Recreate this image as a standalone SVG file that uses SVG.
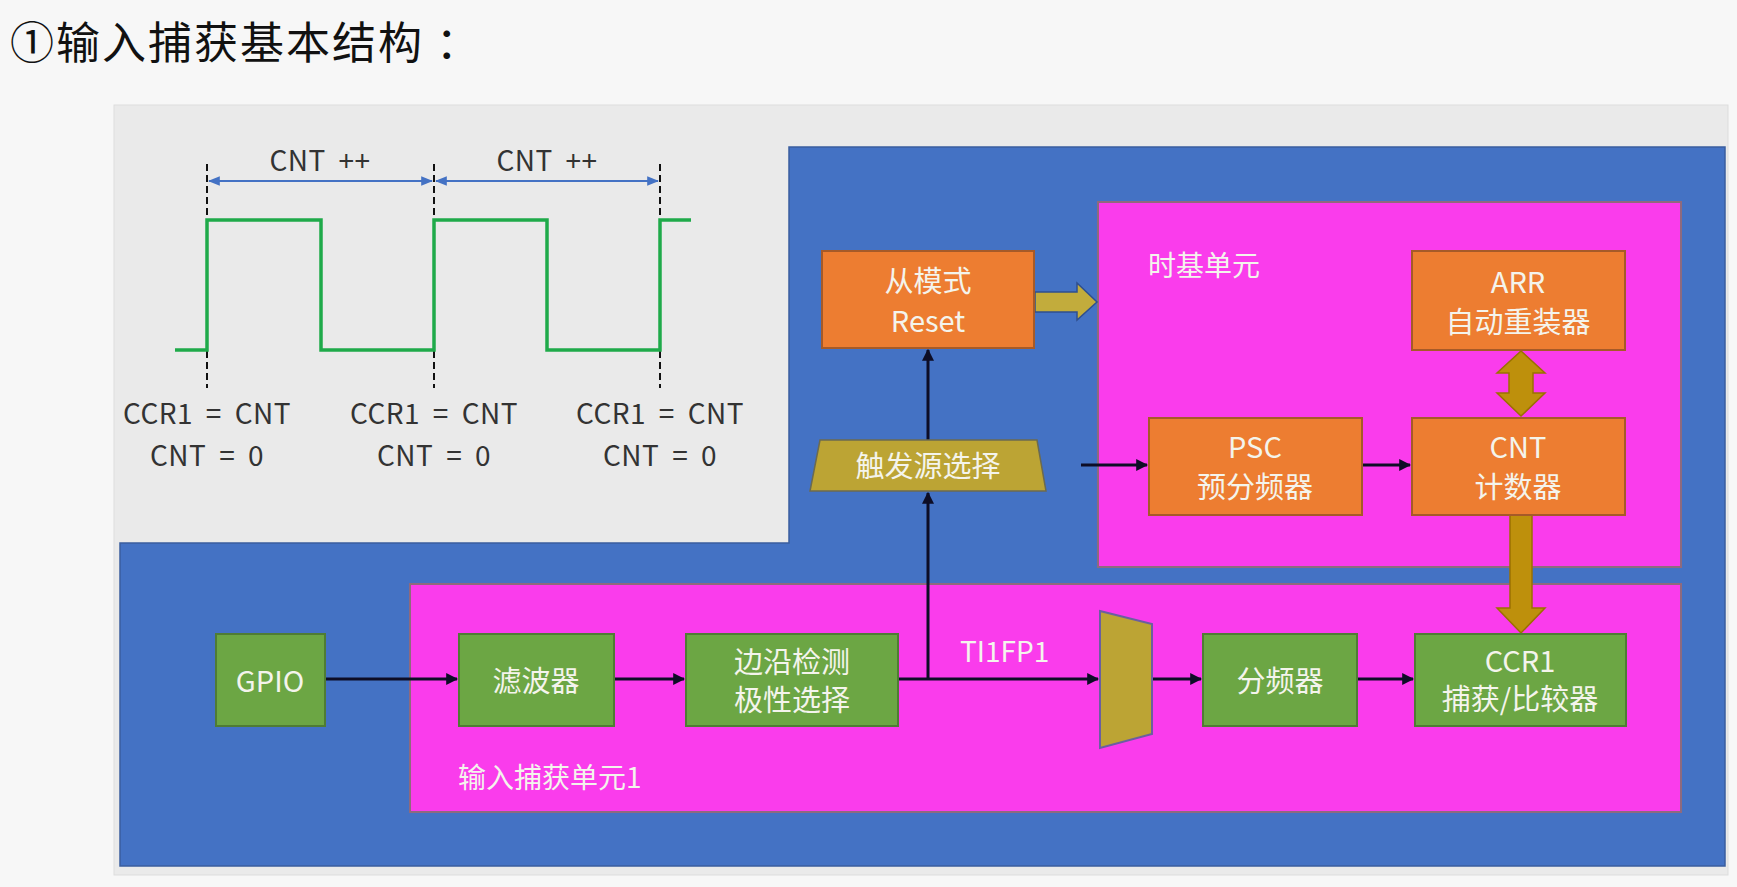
<svg xmlns="http://www.w3.org/2000/svg" width="1737" height="887" viewBox="0 0 1737 887">
<defs>
<style>
.t{font-family:"Noto Sans CJK SC","Noto Sans",sans-serif;fill:#F4F4EC;font-size:29px;text-anchor:middle;dominant-baseline:central}
.lbl{font-family:"Noto Sans CJK SC","Noto Sans",sans-serif;fill:#F4F4EC;font-size:28px;dominant-baseline:central}
.w{font-family:"Noto Sans CJK SC","Noto Sans",sans-serif;fill:#333;font-size:28px;text-anchor:middle;dominant-baseline:central;word-spacing:6px;letter-spacing:0.5px}
.or{fill:#ED7D31;stroke:#A65A28;stroke-width:2}
.gr{fill:#6CA644;stroke:#4F7C34;stroke-width:2}
.pk{fill:#FA3CEC;stroke:#8E6A7E;stroke-width:2}
.con{stroke:#0D0D26;stroke-width:3;fill:none;marker-end:url(#ah)}
.dash{stroke:#111;stroke-width:2;stroke-dasharray:7,4;fill:none}
.wave{stroke:#1FAA4A;stroke-width:3.5;fill:none}
.dim{stroke:#4472C4;stroke-width:2;fill:none;marker-start:url(#ba);marker-end:url(#ba)}
.fat{fill:#BE900C;stroke:#9A7000;stroke-width:1.5}
</style>
<marker id="ah" viewBox="0 0 10 10" refX="9" refY="5" markerWidth="4" markerHeight="4" orient="auto-start-reverse" markerUnits="strokeWidth">
<path d="M0,0 L10,5 L0,10 z" fill="#0D0D26"/>
</marker>
<marker id="ba" viewBox="0 0 10 10" refX="9" refY="5" markerWidth="6" markerHeight="6" orient="auto-start-reverse" markerUnits="strokeWidth">
<path d="M0,1 L10,5 L0,9 z" fill="#4472C4"/>
</marker>
</defs>
<rect x="0" y="0" width="1737" height="887" fill="#F7F7F7"/>
<text x="10" y="40" style="font-family:'Noto Sans CJK SC',sans-serif;font-size:44px;fill:#111;dominant-baseline:central;letter-spacing:2px">①输入捕获基本结构 ：</text>

<g id="panel">
<rect x="114" y="105" width="1614" height="770" fill="#EAEAEA" stroke="#DDDDDD" stroke-width="1"/>
<polygon points="789,147 1725,147 1725,866 120,866 120,543 789,543" fill="#4472C4" stroke="#3A5E9E" stroke-width="1.5"/>
</g>

<g id="waveform">
<line class="dash" x1="207" y1="164" x2="207" y2="388"/>
<line class="dash" x1="434" y1="164" x2="434" y2="388"/>
<line class="dash" x1="660" y1="164" x2="660" y2="388"/>
<line class="dim" x1="209" y1="181" x2="432" y2="181"/>
<line class="dim" x1="436" y1="181" x2="658" y2="181"/>
<text class="w" x="320" y="159">CNT ++</text>
<text class="w" x="547" y="159">CNT ++</text>
<polyline class="wave" points="175,350 207,350 207,220 321,220 321,350 434,350 434,220 547,220 547,350 660,350 660,220 691,220"/>
<text class="w" x="207" y="412">CCR1 = CNT</text>
<text class="w" x="207" y="454">CNT = 0</text>
<text class="w" x="434" y="412">CCR1 = CNT</text>
<text class="w" x="434" y="454">CNT = 0</text>
<text class="w" x="660" y="412">CCR1 = CNT</text>
<text class="w" x="660" y="454">CNT = 0</text>
</g>

<g id="timebase">
<rect class="pk" x="1098" y="202" width="583" height="365"/>
<text class="lbl" x="1148" y="264">时基单元</text>
</g>

<g id="inputcapture">
<rect class="pk" x="410" y="584" width="1271" height="228"/>
<text class="lbl" x="458" y="776">输入捕获单元1</text>
</g>

<g id="connectors">
<line class="con" x1="325" y1="679" x2="457" y2="679"/>
<line class="con" x1="614" y1="679" x2="684" y2="679"/>
<line class="con" x1="898" y1="679" x2="1098" y2="679"/>
<line class="con" x1="928" y1="679" x2="928" y2="493"/>
<line class="con" x1="928" y1="440" x2="928" y2="350"/>
<line class="con" x1="1081" y1="465" x2="1147" y2="465"/>
<line class="con" x1="1362" y1="465" x2="1410" y2="465"/>
<line class="con" x1="1152" y1="679" x2="1201" y2="679"/>
<line class="con" x1="1357" y1="679" x2="1413" y2="679"/>
<text class="lbl" x="960" y="650">TI1FP1</text>
<polygon points="1035,292 1077,292 1077,283 1097,302 1077,320 1077,312 1035,312" fill="#C2AC3C" stroke="#2F4F8F" stroke-width="1.5"/>
<polygon class="fat" points="1521,351 1545,373 1533,373 1533,393 1545,393 1521,416 1497,393 1509,393 1509,373 1497,373"/>
<polygon class="fat" points="1510,515 1532,515 1532,608 1545,608 1521,633 1497,608 1510,608"/>
</g>

<g id="slave">
<rect class="or" x="822" y="251" width="212" height="97"/>
<text class="t" x="928" y="279">从模式</text>
<text class="t" x="928" y="319">Reset</text>
</g>
<g id="arr">
<rect class="or" x="1412" y="251" width="213" height="99"/>
<text class="t" x="1518" y="280">ARR</text>
<text class="t" x="1518" y="320">自动重装器</text>
</g>
<g id="psc">
<rect class="or" x="1149" y="418" width="213" height="97"/>
<text class="t" x="1255" y="445">PSC</text>
<text class="t" x="1255" y="485">预分频器</text>
</g>
<g id="cnt">
<rect class="or" x="1412" y="418" width="213" height="97"/>
<text class="t" x="1518" y="445">CNT</text>
<text class="t" x="1518" y="485">计数器</text>
</g>
<g id="trigger">
<polygon points="820,440 1037,440 1046,491 810,491" fill="#BCA434" stroke="#6B6A50" stroke-width="1.5"/>
<text class="t" x="928" y="464">触发源选择</text>
</g>
<g id="gpio">
<rect class="gr" x="216" y="634" width="109" height="92"/>
<text class="t" x="270" y="679">GPIO</text>
</g>
<g id="filter">
<rect class="gr" x="459" y="634" width="155" height="92"/>
<text class="t" x="536" y="679">滤波器</text>
</g>
<g id="edge">
<rect class="gr" x="686" y="634" width="212" height="92"/>
<text class="t" x="792" y="660">边沿检测</text>
<text class="t" x="792" y="698">极性选择</text>
</g>
<g id="mux">
<polygon points="1100,611 1152,624 1152,734 1100,748" fill="#BCA434" stroke="#6A5FA0" stroke-width="2"/>
</g>
<g id="divider">
<rect class="gr" x="1203" y="634" width="154" height="92"/>
<text class="t" x="1280" y="679">分频器</text>
</g>
<g id="ccr1">
<rect class="gr" x="1415" y="634" width="211" height="92"/>
<text class="t" x="1520" y="659">CCR1</text>
<text class="t" x="1520" y="697">捕获/比较器</text>
</g>
</svg>
